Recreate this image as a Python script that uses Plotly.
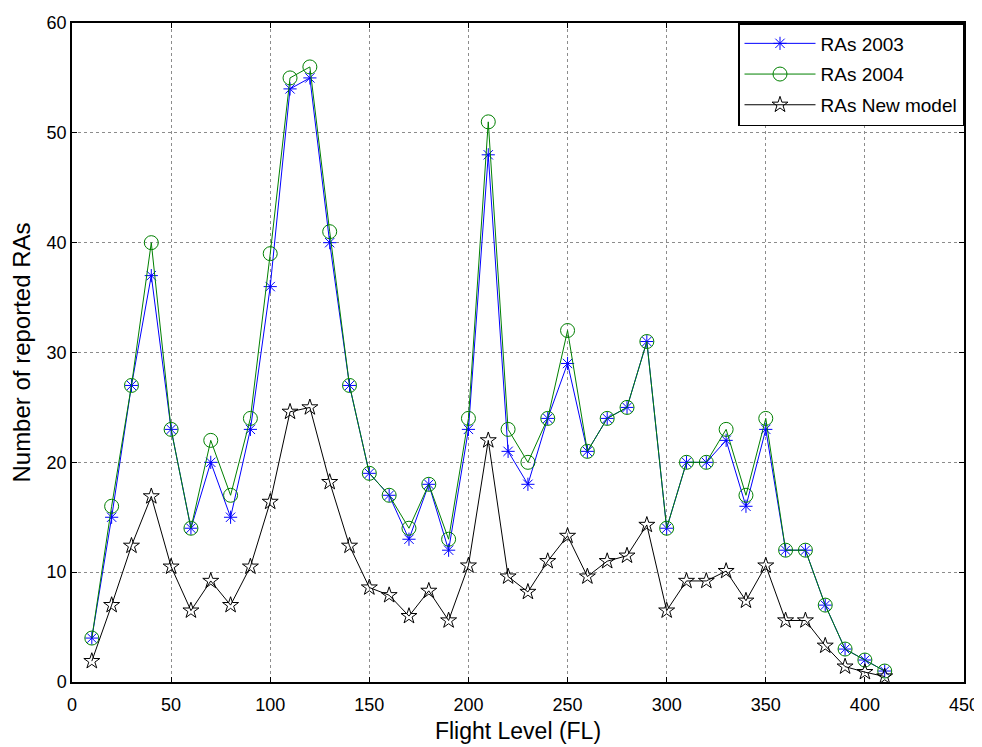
import plotly.graph_objects as go

flight_level = [10, 20, 30, 40, 50, 60, 70, 80, 90, 100, 110, 120, 130, 140, 150, 160, 170, 180, 190, 200,
                210, 220, 230, 240, 250, 260, 270, 280, 290, 300, 310, 320, 330, 340, 350, 360, 370, 380, 390, 400, 410]

ras_2003 = [4, 15, 27, 37, 23, 14, 20, 15, 23, 36, 54, 55, 40, 27, 19, 17, 13, 18, 12, 23,
            48, 21, 18, 24, 29, 21, 24, 25, 31, 14, 20, 20, 22, 16, 23, 12, 12, 7, 3, 2, 1]

ras_2004 = [4, 16, 27, 40, 23, 14, 22, 17, 24, 39, 55, 56, 41, 27, 19, 17, 14, 18, 13, 24,
            51, 23, 20, 24, 32, 21, 24, 25, 31, 14, 20, 20, 23, 17, 24, 12, 12, 7, 3, 2, 1]

ras_new_model = [1.9, 7.0, 12.4, 16.9, 10.5, 6.5, 9.2, 7.0, 10.5, 16.4, 24.6, 25.0, 18.2, 12.4, 8.6, 7.9, 6.0, 8.3, 5.6, 10.6,
                 22.0, 9.6, 8.2, 11.0, 13.3, 9.6, 11.0, 11.5, 14.3, 6.5, 9.2, 9.2, 10.1, 7.4, 10.6, 5.6, 5.6, 3.3, 1.4, 0.9, 0.5]

x_ticks = [0, 50, 100, 150, 200, 250, 300, 350, 400, 450]
y_ticks = [0, 10, 20, 30, 40, 50, 60]

FONT = "Liberation Sans, Arial, sans-serif"

fig = go.Figure()
fig.add_trace(go.Scatter(x=flight_level, y=ras_2003, mode="lines+markers", name="RAs 2003",
                         legendgroup="a",
                         line=dict(color="#0000FF", width=1),
                         marker=dict(symbol="asterisk-open", size=11, color="#0000FF",
                                     line=dict(color="#0000FF", width=1))))
fig.add_trace(go.Scatter(x=flight_level, y=ras_2004, mode="lines+markers", name="RAs 2004",
                         legendgroup="b",
                         line=dict(color="#008000", width=1),
                         marker=dict(symbol="circle-open", size=14, color="#008000",
                                     line=dict(color="#008000", width=1))))
fig.add_trace(go.Scatter(x=flight_level, y=ras_new_model, mode="lines+markers", name="RAs New model",
                         legendgroup="c",
                         line=dict(color="#000000", width=1),
                         marker=dict(symbol="star-open", size=12, color="#000000",
                                     line=dict(color="#000000", width=1))))

axis_common = dict(
    showline=True, linecolor="black", linewidth=1.5, mirror="ticks",
    ticks="inside", ticklen=5, tickcolor="black",
    showgrid=True, gridcolor="#8c8c8c", griddash="dot", gridwidth=1,
    zeroline=False, automargin=False,
    tickfont=dict(family=FONT, size=18, color="black"),
)

fig.update_xaxes(range=[0, 450], tickvals=x_ticks, ticklabelstandoff=6,
                 title=dict(text="Flight Level (FL)", standoff=9,
                            font=dict(family=FONT, size=23, color="black")),
                 **axis_common)
fig.update_yaxes(range=[0, 60], tickvals=y_ticks,
                 title=dict(text="Number of reported RAs", standoff=10,
                            font=dict(family=FONT, size=24, color="black")),
                 **axis_common)

fig.update_layout(
    width=982, height=747,
    margin=dict(l=64, r=26, t=15, b=73),
    paper_bgcolor="white", plot_bgcolor="white",
    font=dict(family=FONT, color="black"),
    legend=dict(x=1, y=1, xanchor="right", yanchor="top",
                bgcolor="white", bordercolor="black", borderwidth=1.5,
                font=dict(family=FONT, size=19, color="black"),
                itemwidth=71, traceorder="grouped", tracegroupgap=3),
    showlegend=True,
)

fig.write_html("out.html")
